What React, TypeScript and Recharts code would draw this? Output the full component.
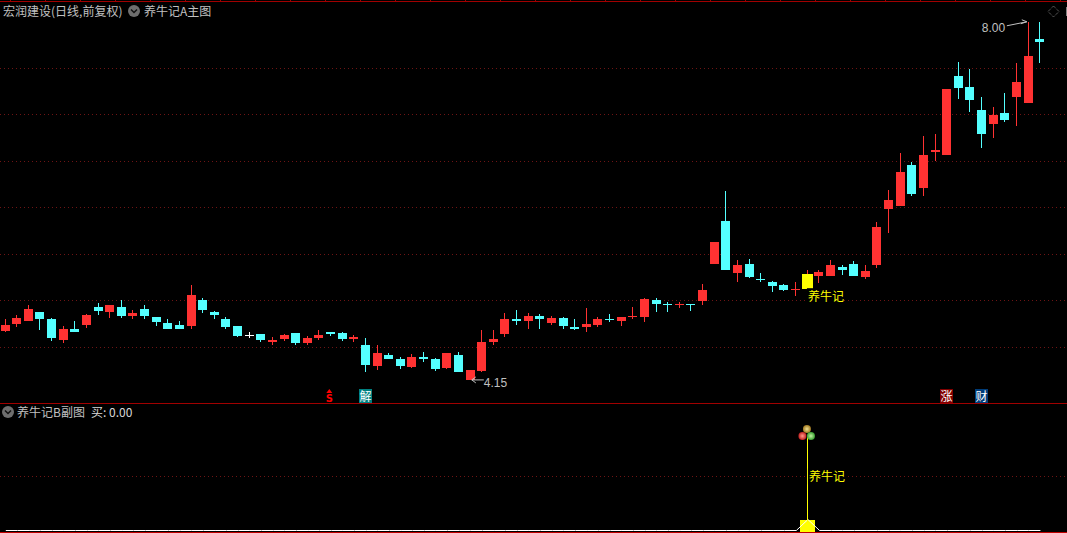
import React from "react";
import { Bar, CartesianGrid, ComposedChart, Line, ReferenceDot, ReferenceLine, XAxis, YAxis } from "recharts";

// daily prices
const opens = [4.68, 4.75, 4.78, 4.88, 4.8, 4.58, 4.7, 4.74, 4.93, 4.88, 4.93, 4.84, 4.91, 4.83, 4.76, 4.74, 4.73, 5.01, 4.88, 4.81, 4.73, 4.63, 4.64, 4.56, 4.59, 4.65, 4.55, 4.6, 4.67, 4.65, 4.59, 4.53, 4.3, 4.42, 4.37, 4.29, 4.4, 4.38, 4.28, 4.42, 4.15, 4.25, 4.56, 4.64, 4.81, 4.78, 4.84, 4.76, 4.82, 4.72, 4.72, 4.74, 4.81, 4.78, 4.83, 4.83, 5.01, 4.97, 4.96, 4.97, 5.0, 5.4, 5.86, 5.3, 5.4, 5.23, 5.2, 5.17, 5.12, 5.13, 5.27, 5.27, 5.36, 5.4, 5.26, 5.38, 5.99, 6.02, 6.46, 6.21, 6.6, 6.57, 7.42, 7.3, 7.05, 6.9, 7.02, 7.19, 7.13, 7.82];
const highs = [4.81, 4.85, 4.95, 4.88, 4.82, 4.73, 4.78, 4.86, 4.98, 4.96, 5.01, 4.9, 4.95, 4.83, 4.81, 4.78, 5.17, 5.03, 4.89, 4.83, 4.73, 4.66, 4.64, 4.61, 4.64, 4.65, 4.62, 4.69, 4.67, 4.67, 4.63, 4.6, 4.52, 4.44, 4.4, 4.43, 4.45, 4.39, 4.44, 4.45, 4.26, 4.69, 4.69, 4.87, 4.9, 4.87, 4.86, 4.84, 4.83, 4.81, 4.92, 4.83, 4.86, 4.83, 4.93, 5.03, 5.03, 4.99, 4.99, 4.97, 5.18, 5.63, 6.18, 5.44, 5.45, 5.3, 5.21, 5.18, 5.2, 5.33, 5.33, 5.44, 5.39, 5.43, 5.39, 5.85, 6.19, 6.59, 6.49, 6.77, 6.79, 7.28, 7.57, 7.49, 7.19, 7.08, 7.23, 7.56, 8.0, 8.0];
const lows = [4.67, 4.72, 4.78, 4.69, 4.57, 4.55, 4.67, 4.71, 4.85, 4.82, 4.82, 4.81, 4.81, 4.73, 4.7, 4.7, 4.7, 4.87, 4.81, 4.7, 4.61, 4.6, 4.56, 4.53, 4.57, 4.52, 4.52, 4.58, 4.62, 4.57, 4.56, 4.24, 4.26, 4.38, 4.27, 4.28, 4.34, 4.25, 4.27, 4.24, 4.15, 4.24, 4.52, 4.61, 4.74, 4.7, 4.7, 4.74, 4.7, 4.69, 4.66, 4.72, 4.77, 4.73, 4.8, 4.77, 4.88, 4.88, 4.92, 4.89, 4.96, 5.4, 5.33, 5.2, 5.25, 5.2, 5.09, 5.11, 5.05, 5.1, 5.19, 5.27, 5.28, 5.27, 5.24, 5.35, 5.73, 6.02, 6.13, 6.13, 6.5, 6.57, 7.17, 7.03, 6.64, 6.75, 6.92, 6.88, 7.13, 7.56];
const closes = [4.74, 4.82, 4.91, 4.8, 4.6, 4.7, 4.67, 4.85, 4.89, 4.95, 4.84, 4.87, 4.84, 4.77, 4.7, 4.7, 5.06, 4.9, 4.85, 4.72, 4.62, 4.63, 4.58, 4.58, 4.63, 4.55, 4.6, 4.63, 4.64, 4.59, 4.61, 4.31, 4.44, 4.38, 4.3, 4.4, 4.38, 4.27, 4.44, 4.24, 4.26, 4.56, 4.59, 4.8, 4.78, 4.84, 4.81, 4.82, 4.73, 4.7, 4.75, 4.81, 4.8, 4.83, 4.84, 5.02, 4.97, 4.95, 4.97, 4.95, 5.12, 5.63, 5.33, 5.39, 5.26, 5.22, 5.16, 5.12, 5.13, 5.29, 5.31, 5.38, 5.33, 5.27, 5.32, 5.79, 6.08, 6.39, 6.15, 6.57, 6.62, 7.28, 7.29, 7.16, 6.79, 7.0, 6.94, 7.35, 7.63, 7.78];
const gridPrices = [4.5, 5, 5.5, 6, 6.5, 7, 7.5];
const buyDay = 69;
const buyStick = 8.5;
const buyGrid = [4.91];

const days = opens.map((_, i) => i);
const priceData = days.map((i) => ({
  i,
  open: opens[i],
  high: highs[i],
  low: lows[i],
  close: closes[i],
  range: [lows[i], highs[i]],
}));
const buyData = days.map((i) => ({ i, buy: i === buyDay ? 1 : 0 }));

const RED = "#ff3232";
const CYAN = "#54ffff";
const YELLOW = "#ffff00";
const GREY = "#c0c0c0";
const GRID = "#6e1414";
const FONT = '"Noto Sans CJK SC", "Liberation Sans", sans-serif';

const Candle = (props: any) => {
  const { x, y, width, height, payload } = props;
  const { open, high, low, close, i } = payload;
  const perPrice = height / (high - low);
  const cx = Math.floor(x + width / 2 - 0.5);
  const top = Math.round(y + (high - Math.max(open, close)) * perPrice);
  const bottom = Math.round(y + (high - Math.min(open, close)) * perPrice);
  const color = close > open ? RED : close < open ? CYAN : "#ffffff";
  const isBuy = i === buyDay;
  return (
    <g shapeRendering="crispEdges">
      <rect x={cx} y={y} width={1} height={height} fill={color} />
      <rect
        x={cx - (isBuy ? 5 : 4)}
        y={top}
        width={isBuy ? 11 : 9}
        height={Math.max(bottom - top, 1)}
        fill={isBuy ? YELLOW : color}
      />
    </g>
  );
};

const BuyBar = (props: any) => {
  const { x, width, y, height } = props;
  if (!height) return null;
  const cx = Math.floor(x + width / 2 - 0.5);
  return <rect x={cx - 7} y={y} width={15} height={height + 1} fill={YELLOW} shapeRendering="crispEdges" />;
};

const HighMark = ({ cx, cy }: any) => (
  <g>
    <text x={cx - 47} y={cy + 10} fill={GREY} fontSize={12} fontFamily='"Liberation Sans"'>8.00</text>
    <path d={`M${cx - 22} ${cy + 4}L${cx - 2} ${cy}M${cx - 7} ${cy - 2}L${cx - 2} ${cy}L${cx - 8} ${cy + 2}`} stroke={GREY} fill="none" />
  </g>
);

const LowMark = ({ cx, cy }: any) => (
  <g>
    <path d={`M${cx + 13} ${cy}L${cx + 1} ${cy}M${cx + 5} ${cy - 3}L${cx + 1} ${cy}L${cx + 5} ${cy + 3}`} stroke={GREY} fill="none" />
    <text x={cx + 13} y={cy + 7} fill={GREY} fontSize={12} fontFamily='"Liberation Sans"'>4.15</text>
  </g>
);

const SellMark = ({ cx, cy }: any) => (
  <g fill="#ff0000">
    <path d={`M${cx - 5} ${cy - 3}L${cx - 2} ${cy - 7}L${cx + 1} ${cy - 3}Z`} />
    <text x={cx - 2} y={cy + 5.5} textAnchor="middle" fontSize={10} fontWeight="bold" fontFamily='"DejaVu Sans"'>S</text>
  </g>
);

const boxMark = (label: string, bg: string) => ({ cx, cy }: any) => {
  const left = Math.floor(cx) - 7;
  return (
    <g>
      <rect x={left} y={cy - 7} width={13} height={14} fill={bg} shapeRendering="crispEdges" />
      <text x={left + 6.5} y={cy + 4.5} textAnchor="middle" fill="#ffffff" fontSize={12} fontFamily={FONT}>{label}</text>
    </g>
  );
};

const nameTag = (dx: number) => ({ cx, cy }: any) => (
  <g>
    <rect x={cx + dx} y={cy - 8} width={37} height={16} fill="#000000" />
    <text x={cx + dx + 1} y={cy + 4.5} fill={YELLOW} fontSize={12} fontFamily={FONT}>养牛记</text>
  </g>
);

const Balls = ({ cx, cy }: any) => (
  <g>
    <defs>
      <radialGradient id="ballRed"><stop offset="0" stopColor="#ff9a8a" /><stop offset="1" stopColor="#c02020" /></radialGradient>
      <radialGradient id="ballGreen"><stop offset="0" stopColor="#c0f0a0" /><stop offset="1" stopColor="#38a030" /></radialGradient>
      <radialGradient id="ballGold"><stop offset="0" stopColor="#f0e090" /><stop offset="1" stopColor="#a07820" /></radialGradient>
    </defs>
    <circle cx={cx - 1} cy={cy - 8} r={4} fill="url(#ballGold)" />
    <circle cx={cx - 5.5} cy={cy - 1} r={4} fill="url(#ballRed)" />
    <circle cx={cx + 3} cy={cy - 1} r={4} fill="url(#ballGreen)" />
  </g>
);

const Chevron = ({ left, top }: { left: number; top: number }) => (
  <svg style={{ position: "absolute", left, top }} width={12} height={12}>
    <circle cx={6} cy={6} r={6} fill="#6e6e6e" />
    <path d="M3 4.5L6 7.5L9 4.5" stroke="#111" strokeWidth={1.5} fill="none" />
  </svg>
);

const label = (left: number, top: number, text: string, color = GREY): React.ReactNode => (
  <div style={{ position: "absolute", left, top, color, fontFamily: FONT, fontSize: 12, lineHeight: "14px", whiteSpace: "nowrap" }}>{text}</div>
);

const App: React.FC = () => {
  return (
    <div style={{ position: "absolute", left: 0, top: 0, width: 1067, height: 533, background: "#000", overflow: "hidden" }}>
      <div style={{ position: "absolute", left: 0, top: 0 }}>
        <ComposedChart width={1067} height={404} data={priceData} margin={{ top: 0, right: 0, bottom: 0, left: 0 }}>
          <XAxis dataKey="i" type="category" hide padding={{ left: 0, right: 20.75 }} />
          <YAxis type="number" hide domain={[3.891, 8.234]} allowDataOverflow />
          <CartesianGrid horizontal vertical={false} horizontalValues={gridPrices} stroke={GRID} strokeDasharray="1 3" shapeRendering="crispEdges" />
          <Bar dataKey="range" barSize={9} shape={Candle} isAnimationActive={false} />
          <ReferenceDot x={88} y={8.0} r={0} shape={HighMark} />
          <ReferenceDot x={40} y={4.15} r={0} shape={LowMark} />
          <ReferenceDot x={28} y={3.977} r={0} shape={SellMark} />
          <ReferenceDot x={31} y={3.977} r={0} shape={boxMark("解", "#008080")} />
          <ReferenceDot x={81} y={3.977} r={0} shape={boxMark("涨", "#800000")} />
          <ReferenceDot x={84} y={3.977} r={0} shape={boxMark("财", "#003c78")} />
          <ReferenceDot x={buyDay} y={5.05} r={0} shape={nameTag(-1)} />
        </ComposedChart>
      </div>
      <div style={{ position: "absolute", left: 0, top: 404 }}>
        <ComposedChart width={1067} height={129} data={buyData} margin={{ top: 0, right: 0, bottom: 0, left: 0 }}>
          <XAxis dataKey="i" type="category" hide padding={{ left: 0, right: 20.75 }} />
          <YAxis type="number" hide domain={[-0.227, 11.5]} allowDataOverflow />
          <CartesianGrid horizontal vertical={false} horizontalValues={buyGrid} stroke={GRID} strokeDasharray="1 3" shapeRendering="crispEdges" />
          <Line dataKey="buy" stroke="#ffffff" strokeWidth={1} dot={false} isAnimationActive={false} />
          <Bar dataKey="buy" barSize={15} shape={BuyBar} isAnimationActive={false} />
          <ReferenceLine segment={[{ x: buyDay, y: 0 }, { x: buyDay, y: buyStick }]} stroke={YELLOW} shapeRendering="crispEdges" />
          <ReferenceDot x={buyDay} y={buyStick} r={0} shape={Balls} />
          <ReferenceDot x={buyDay} y={4.91} r={0} shape={nameTag(0)} />
        </ComposedChart>
      </div>

      <div style={{ position: "absolute", left: 0, top: 1, width: 1067, height: 1, background: "#a00000" }} />
      <div style={{ position: "absolute", left: 0, top: 0, width: 1067, height: 1, background: "repeating-linear-gradient(90deg, #000 0 10px, #a00000 10px 11px, #000 11px 35px)" }} />
      <div style={{ position: "absolute", left: 0, top: 403, width: 1067, height: 1, background: "#a00000" }} />
      <div style={{ position: "absolute", left: 0, top: 532, width: 1067, height: 1, background: "#c00000" }} />

      {label(3, 4, "宏润建设(日线,前复权)")}
      <Chevron left={128} top={5} />
      {label(144, 4, "养牛记A主图")}
      <Chevron left={2} top={406} />
      {label(17, 405, "养牛记B副图")}
      {label(91, 405, "买: 0.00", "#d8d8d8")}
      <svg style={{ position: "absolute", left: 1047, top: 5 }} width={13} height={13}>
        <path d="M6.5 1L12 6.5L6.5 12L1 6.5Z" stroke="#808080" strokeDasharray="1 1" fill="none" />
      </svg>
      <div style={{ position: "absolute", left: 1066, top: 7, width: 1, height: 9, background: "#808080" }} />
    </div>
  );
};

export default App;
